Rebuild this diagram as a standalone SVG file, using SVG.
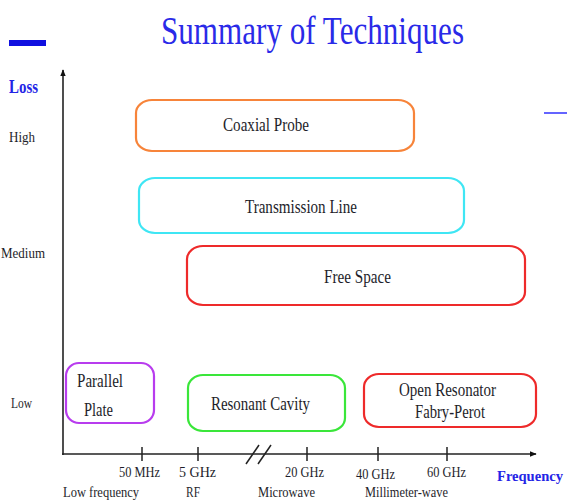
<svg xmlns="http://www.w3.org/2000/svg" width="567" height="503" viewBox="0 0 567 503">
<defs>
<marker id="arr" viewBox="0 0 10 10" refX="9" refY="5" markerWidth="7" markerHeight="7" orient="auto" markerUnits="userSpaceOnUse">
<path d="M0,1 L10,5 L0,9 z" fill="#111"/>
</marker>
<style>
text{font-family:"Liberation Serif","Times New Roman",serif;fill:#1e1e2a}
.lbl{font-size:19px}
.tick{font-size:14px}
.axlbl{font-size:15px}
.blue{fill:#2424e6;font-weight:bold}
.box{fill:none;stroke-width:2.2}
.axis{stroke:#222;stroke-width:1.6;fill:none}
</style>
</defs>
<rect width="567" height="503" fill="#fff"/>
<text x="161" y="44" font-size="40" style="fill:#2a2ae8" textLength="303" lengthAdjust="spacingAndGlyphs">Summary of Techniques</text>
<rect x="9" y="40" width="37" height="6" fill="#1010e0"/>
<line x1="544" y1="113" x2="567" y2="113" stroke="#6464ff" stroke-width="2"/>

<g id="axes">
<line class="axis" x1="63" y1="455" x2="63" y2="70" marker-end="url(#arr)"/>
<line class="axis" x1="62" y1="454" x2="536" y2="454" marker-end="url(#arr)"/>
<g stroke="#222" stroke-width="1.5">
<line x1="142" y1="447" x2="142" y2="461"/>
<line x1="198" y1="447" x2="198" y2="461"/>
<line x1="307" y1="447" x2="307" y2="461"/>
<line x1="378" y1="447" x2="378" y2="461"/>
<line x1="447" y1="447" x2="447" y2="461"/>
<line x1="246" y1="464" x2="259" y2="445"/>
<line x1="258" y1="464" x2="271" y2="445"/>
</g>
<text class="blue" x="9" y="93" font-size="18" textLength="29" lengthAdjust="spacingAndGlyphs">Loss</text>
<text class="axlbl" x="9" y="142" textLength="26" lengthAdjust="spacingAndGlyphs">High</text>
<text class="axlbl" x="1" y="258" textLength="44" lengthAdjust="spacingAndGlyphs">Medium</text>
<text class="axlbl" x="11" y="408" textLength="21" lengthAdjust="spacingAndGlyphs">Low</text>
<text class="tick" x="119" y="477" textLength="41" lengthAdjust="spacingAndGlyphs">50 MHz</text>
<text class="tick" x="179" y="477" textLength="37" lengthAdjust="spacingAndGlyphs">5 GHz</text>
<text class="tick" x="285" y="477" textLength="39" lengthAdjust="spacingAndGlyphs">20 GHz</text>
<text class="tick" x="356" y="479" textLength="39" lengthAdjust="spacingAndGlyphs">40 GHz</text>
<text class="tick" x="427" y="477" textLength="39" lengthAdjust="spacingAndGlyphs">60 GHz</text>
<text class="tick" x="63" y="497" textLength="76" lengthAdjust="spacingAndGlyphs">Low frequency</text>
<text class="tick" x="186" y="497" textLength="14" lengthAdjust="spacingAndGlyphs">RF</text>
<text class="tick" x="258" y="497" textLength="57" lengthAdjust="spacingAndGlyphs">Microwave</text>
<text class="tick" x="365" y="497" textLength="83" lengthAdjust="spacingAndGlyphs">Millimeter-wave</text>
<text class="blue" x="497" y="481" font-size="15" textLength="66" lengthAdjust="spacingAndGlyphs">Frequency</text>
</g>

<g id="coaxial">
<rect class="box" x="136" y="100" width="278" height="51" rx="16" ry="13" stroke="#f7843a"/>
<text class="lbl" x="223" y="131" textLength="86" lengthAdjust="spacingAndGlyphs">Coaxial Probe</text>
</g>
<g id="transmission">
<rect class="box" x="139" y="178" width="325" height="55" rx="16" ry="13" stroke="#3fe6f4"/>
<text class="lbl" x="245" y="213" textLength="112" lengthAdjust="spacingAndGlyphs">Transmission Line</text>
</g>
<g id="freespace">
<rect class="box" x="187" y="246" width="338" height="59" rx="16" ry="13" stroke="#ee2a2a"/>
<text class="lbl" x="324" y="283" textLength="67" lengthAdjust="spacingAndGlyphs">Free Space</text>
</g>
<g id="parallel">
<rect class="box" x="66" y="363" width="88" height="60" rx="13" ry="13" stroke="#b83cee"/>
<text class="lbl" x="77" y="387" textLength="46" lengthAdjust="spacingAndGlyphs">Parallel</text>
<text class="lbl" x="84" y="416" textLength="29" lengthAdjust="spacingAndGlyphs">Plate</text>
</g>
<g id="cavity">
<rect class="box" x="188" y="375" width="157" height="56" rx="15" ry="13" stroke="#3ae63a"/>
<text class="lbl" x="211" y="410" textLength="99" lengthAdjust="spacingAndGlyphs">Resonant Cavity</text>
</g>
<g id="openres">
<rect class="box" x="364" y="374" width="172" height="53" rx="15" ry="13" stroke="#ee2a2a"/>
<text class="lbl" x="399" y="396" textLength="97" lengthAdjust="spacingAndGlyphs">Open Resonator</text>
<text class="lbl" x="415" y="418" textLength="70" lengthAdjust="spacingAndGlyphs">Fabry-Perot</text>
</g>
</svg>
